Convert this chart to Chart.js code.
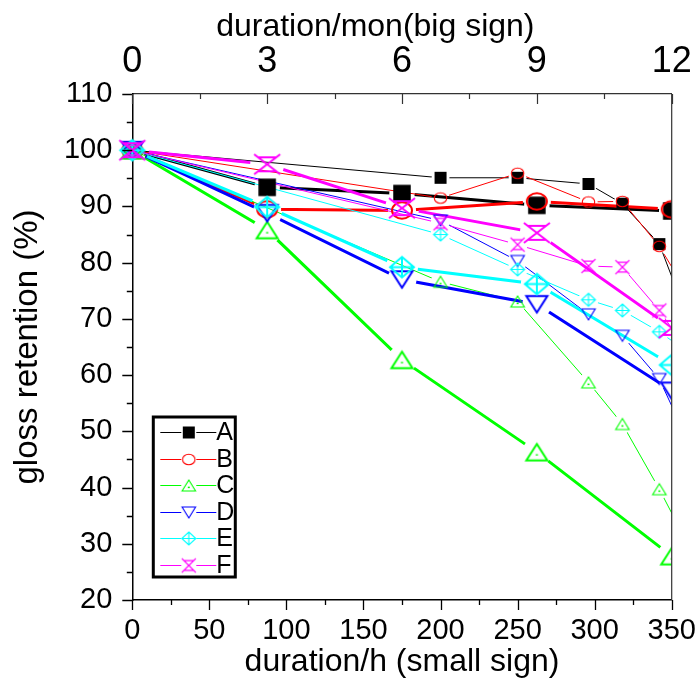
<!DOCTYPE html>
<html>
<head>
<meta charset="utf-8">
<script src="https://cdn.jsdelivr.net/npm/chart.js@4.4.1/dist/chart.umd.min.js"></script>
<style>
  html, body { margin: 0; padding: 0; background: #fff; }
</style>
</head>
<body>
<canvas id="chart" width="700" height="684"></canvas>
<script>
// small sign: hours (last point lies past 350 h, it gets cut at the axis)
const hours = [0, 200, 250, 296, 318, 342, 366];
const aSmall = [100, 95.1, 95.1, 94.0, 90.5, 83.3, 66];
const bSmall = [100, 91.5, 95.9, 90.8, 90.9, 82.9, 72];
const cSmall = [100, 76.6, 73.1, 58.7, 51.3, 39.7, 27];
const dSmall = [100, 87.5, 80.3, 70.8, 67.0, 59.3, 45];
const eSmall = [100, 85.0, 78.8, 73.4, 71.5, 67.7, 63];
const fSmall = [100, 87.0, 83.2, 79.4, 79.2, 71.5, 62];

// big sign: months
const months = [0, 3, 6, 9, 12];
const aBig = [100, 93.4, 92.3, 90.2, 89.2];
const bBig = [100, 89.5, 89.3, 90.9, 89.5];
const cBig = [100, 85.8, 62.7, 46.3, 27.8];
const dBig = [100, 88.8, 77.0, 72.6, 57.2];
const eBig = [100, 89.9, 79.2, 76.2, 61.8];
const fBig = [100, 97.5, 89.7, 85.3, 68.4];

const seriesNames = ['A', 'B', 'C', 'D', 'E', 'F'];
const colors = ['#000000', '#ff0000', '#00ff00', '#0000ff', '#00ffff', '#ff00ff'];
const shapes = ['square', 'circle', 'up', 'down', 'diamond', 'hourglass'];

const FONT = "'Liberation Sans', Arial, sans-serif";

// marker images, Origin style symbols
function makeMarker(kind, color, w, h, lw) {
    const pad = Math.ceil(lw) + 2;
    const c = document.createElement('canvas');
    c.width = Math.ceil(w + 2 * pad);
    c.height = Math.ceil(h + 2 * pad);
    const g = c.getContext('2d');
    g.translate(c.width / 2, c.height / 2);
    g.strokeStyle = color;
    g.fillStyle = color;
    g.lineWidth = lw;
    const x = w / 2, y = h / 2;
    g.beginPath();
    if (kind === 'square') {
        g.fillRect(-x, -y, w, h);
        return c;
    }
    if (kind === 'circle') g.ellipse(0, 0, x, y, 0, 0, Math.PI * 2);
    if (kind === 'up') { g.moveTo(0, -y); g.lineTo(x, y); g.lineTo(-x, y); g.closePath(); }
    if (kind === 'down') { g.moveTo(0, y); g.lineTo(x, -y); g.lineTo(-x, -y); g.closePath(); }
    if (kind === 'diamond') {
        g.moveTo(0, -y); g.lineTo(x, 0); g.lineTo(0, y); g.lineTo(-x, 0); g.closePath();
        g.moveTo(-x, 0); g.lineTo(x, 0);
        g.moveTo(0, -y); g.lineTo(0, y);
    }
    if (kind === 'hourglass') {
        g.moveTo(-x, -y); g.lineTo(x, y);
        g.moveTo(x, -y); g.lineTo(-x, y);
        g.moveTo(-0.7 * x, -0.7 * y); g.lineTo(0.7 * x, -0.7 * y);
        g.moveTo(-0.7 * x, 0.7 * y); g.lineTo(0.7 * x, 0.7 * y);
    }
    g.stroke();
    if (kind === 'up') g.fillRect(-1, y * 0.3 - 0.5, 2, 1.5);
    return c;
}

const smallSize = { square: [12, 12], circle: [12.5, 10.5], up: [13.5, 11], down: [13.5, 11], diamond: [14, 13], hourglass: [14, 14] };
const bigSize = { square: [17.5, 17.5], circle: [20, 16.5], up: [21, 16.5], down: [21, 16.5], diamond: [24, 20.5], hourglass: [26, 20] };
const smallMarkers = shapes.map((s, i) => makeMarker(s, colors[i], smallSize[s][0], smallSize[s][1], 1.1));
const bigMarkers = shapes.map((s, i) => makeMarker(s, colors[i], bigSize[s][0], bigSize[s][1], 2));

const smallVals = [aSmall, bSmall, cSmall, dSmall, eSmall, fSmall];
const bigVals = [aBig, bBig, cBig, dBig, eBig, fBig];

const toPts = (xs, ys) => xs.map((x, i) => ({ x: x, y: ys[i] }));
const clipBox = { left: 20, top: 20, right: 0, bottom: 20 };

// lower order is drawn on top: F symbols end up uppermost, lines under all symbols
const datasets = [];
seriesNames.forEach((name, i) => {
    datasets.push({ label: name + ' small', data: toPts(hours, smallVals[i]), xAxisID: 'x', showLine: false,
        pointStyle: smallMarkers[i], pointRadius: 7, order: 6 - i, clip: clipBox });
    datasets.push({ label: name + ' big', data: toPts(months, bigVals[i]), xAxisID: 'x2', showLine: false,
        pointStyle: bigMarkers[i], pointRadius: 12, order: 6 - i, clip: clipBox });
    // lines with a gap round each symbol
    datasets.push({ label: name + ' small line', data: toPts(hours, smallVals[i]), xAxisID: 'x',
        borderColor: colors[i], borderWidth: 1, pointRadius: 0, order: 20 - i, clip: clipBox,
        gap: Math.max(smallSize[shapes[i]][0], smallSize[shapes[i]][1]) / 2 + 3 });
    datasets.push({ label: name + ' big line', data: toPts(months, bigVals[i]), xAxisID: 'x2',
        borderColor: colors[i], borderWidth: 3, pointRadius: 0, order: 20 - i, clip: clipBox,
        gap: Math.max(bigSize[shapes[i]][0], bigSize[shapes[i]][1]) / 2 + 4 });
});

// cut the line round its own symbols, like Origin does
const gapPlugin = {
    id: 'gapPlugin',
    beforeDatasetDraw(chart, args) {
        const ds = chart.data.datasets[args.index];
        if (!ds.gap) return;
        const ctx = chart.ctx;
        ctx.save();
        ctx.beginPath();
        ctx.rect(0, 0, chart.width, chart.height);
        args.meta.data.forEach(p => {
            ctx.moveTo(p.x + ds.gap, p.y);
            ctx.arc(p.x, p.y, ds.gap, 0, Math.PI * 2, true);
        });
        ctx.clip('evenodd');
    },
    afterDatasetDraw(chart, args) {
        const ds = chart.data.datasets[args.index];
        if (!ds.gap) return;
        chart.ctx.restore();
    }
};

// tick marks (major + minor) and the right frame line
const tickPlugin = {
    id: 'tickPlugin',
    afterDraw(chart) {
        const ctx = chart.ctx;
        const a = chart.chartArea;
        const sx = chart.scales.x, sx2 = chart.scales.x2, sy = chart.scales.y;
        ctx.save();
        ctx.strokeStyle = '#000';
        ctx.lineWidth = 1.3;
        ctx.beginPath();
        for (let v = 20; v <= 110; v += 5) {
            const p = Math.round(sy.getPixelForValue(v)) + 0.5;
            const len = v % 10 === 0 ? 10 : 5.5;
            ctx.moveTo(a.left, p); ctx.lineTo(a.left - len, p);
        }
        for (let v = 0; v <= 350; v += 25) {
            const p = Math.round(sx.getPixelForValue(v)) + 0.5;
            const len = v % 50 === 0 ? 10 : 5;
            ctx.moveTo(p, a.bottom); ctx.lineTo(p, a.bottom + len);
        }
        ctx.stroke();
        ctx.strokeStyle = '#333';
        ctx.lineWidth = 1.2;
        ctx.beginPath();
        for (let v = 0; v <= 12; v += 1.5) {
            const p = Math.round(sx2.getPixelForValue(v)) + 0.5;
            const len = v % 3 === 0 ? 10 : 5;
            ctx.moveTo(p, a.top); ctx.lineTo(p, a.top + len);
        }
        ctx.moveTo(a.right, a.top); ctx.lineTo(a.right, a.bottom);
        ctx.stroke();
        ctx.restore();
    }
};

// boxed legend inside the plot, only the small-sign style
const legendPlugin = {
    id: 'boxLegend',
    afterDraw(chart) {
        const ctx = chart.ctx;
        const a = chart.chartArea;
        const left = a.left + 21, top = a.top + 323, w = 82, h = 160;
        ctx.save();
        ctx.lineWidth = 3;
        ctx.strokeStyle = '#000';
        ctx.strokeRect(left, top, w, h);
        ctx.font = '25px ' + FONT;
        ctx.textBaseline = 'middle';
        seriesNames.forEach((name, i) => {
            const y = Math.round(top + 15 + i * 26.5) + 0.5;
            ctx.strokeStyle = colors[i];
            ctx.lineWidth = 1;
            ctx.beginPath();
            ctx.moveTo(left + 7, y); ctx.lineTo(left + 28, y);
            ctx.moveTo(left + 43, y); ctx.lineTo(left + 63, y);
            ctx.stroke();
            const m = smallMarkers[i];
            ctx.drawImage(m, left + 35.5 - m.width / 2, y - m.height / 2);
            ctx.fillStyle = '#000';
            ctx.fillText(name, left + 63, y + 1);
        });
        ctx.restore();
    }
};

const ctx = document.getElementById('chart').getContext('2d');
new Chart(ctx, {
    type: 'line',
    data: { datasets: datasets },
    options: {
        responsive: false,
        animation: false,
        devicePixelRatio: 1,
        layout: { padding: { left: 0, right: 28.3, top: 0, bottom: 0 } },
        plugins: {
            legend: { display: false },
            tooltip: { enabled: false }
        },
        elements: { line: { tension: 0 } },
        scales: {
            x: {
                type: 'linear', position: 'bottom', min: 0, max: 350,
                afterFit: s => { s.height = 84; },
                border: { color: '#000', width: 1.5 },
                grid: { drawOnChartArea: false, tickLength: 10, tickColor: 'transparent' },
                ticks: { stepSize: 50, autoSkip: false, maxRotation: 0, padding: 4, color: '#000',
                    font: { family: FONT, size: 29 } },
                title: { display: true, text: 'duration/h (small sign)', color: '#000',
                    font: { family: FONT, size: 32 }, padding: { top: 0, bottom: 3 } }
            },
            x2: {
                type: 'linear', position: 'top', min: 0, max: 12,
                afterFit: s => { s.height = 94; },
                border: { color: '#333', width: 1.2 },
                grid: { drawOnChartArea: false, tickLength: 10, tickColor: 'transparent' },
                ticks: { stepSize: 3, autoSkip: false, maxRotation: 0, padding: 0, color: '#000',
                    font: { family: FONT, size: 36 } },
                // trailing spaces move the title a little left of the axis centre
                title: { display: true, text: 'duration/mon(big sign)      ', color: '#000',
                    font: { family: FONT, size: 32 }, padding: { top: 8, bottom: 0 } }
            },
            y: {
                type: 'linear', min: 20, max: 110,
                afterFit: s => { s.width = 132.3; },
                border: { color: '#000', width: 1.5 },
                grid: { drawOnChartArea: false, tickLength: 10, tickColor: 'transparent' },
                ticks: { stepSize: 10, autoSkip: false, padding: 10, color: '#000',
                    font: { family: FONT, size: 29 } },
                title: { display: true, text: 'gloss retention (%)', color: '#000',
                    font: { family: FONT, size: 33 }, padding: { top: 8, bottom: 0 } }
            }
        }
    },
    plugins: [gapPlugin, tickPlugin, legendPlugin]
});
</script>
</body>
</html>
